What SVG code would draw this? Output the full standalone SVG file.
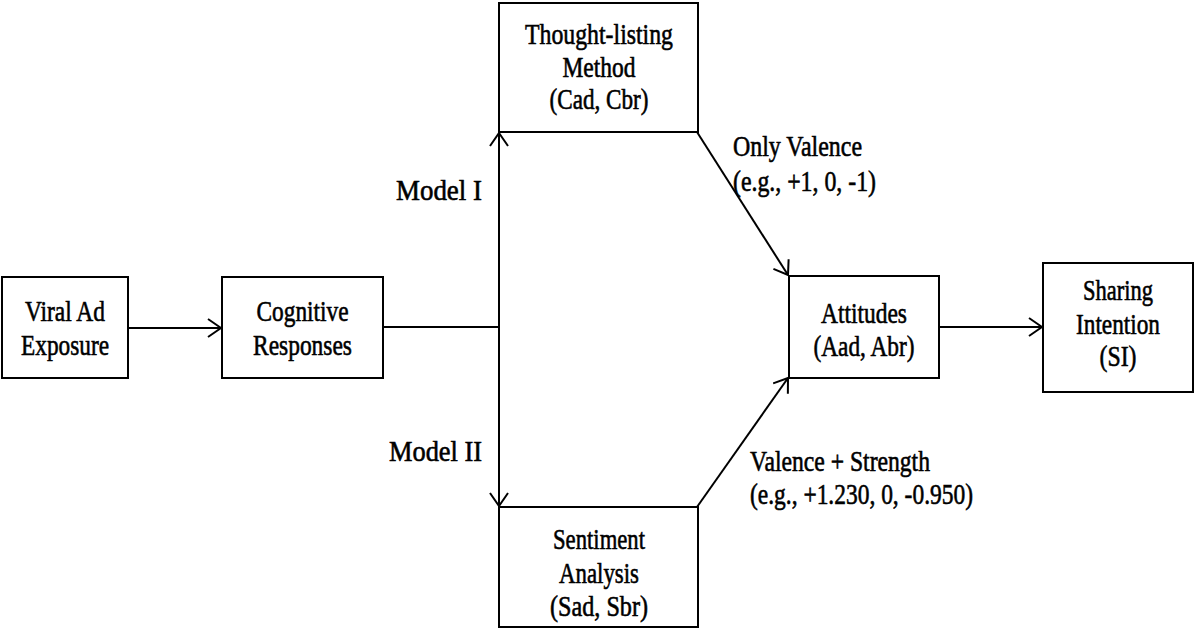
<svg xmlns="http://www.w3.org/2000/svg" width="1195" height="639" viewBox="0 0 1195 639">
<style>
.box{fill:#fff;stroke:#000;stroke-width:2}
.t{font-family:"Liberation Serif","Times New Roman",serif;font-size:30px;fill:#000;stroke:#000;stroke-width:0.6;text-anchor:middle}
.l{font-family:"Liberation Serif","Times New Roman",serif;font-size:30px;fill:#000;stroke:#000;stroke-width:0.6;text-anchor:start}
.c{fill:none;stroke:#000;stroke-width:2}
</style>
<defs>
<marker id="ah" markerUnits="userSpaceOnUse" viewBox="0 0 15 20" refX="14" refY="10" markerWidth="15" markerHeight="20" orient="auto">
<path d="M1,1 L14,10 L1,19" fill="none" stroke="#000" stroke-width="2"/>
</marker>
</defs>
<rect width="1195" height="639" fill="#fff"/>
<g id="connectors">
<path class="c" d="M128,328 H221" marker-end="url(#ah)"/>
<path class="c" d="M383,327 H499"/>
<path class="c" d="M499,327 V133" marker-end="url(#ah)"/>
<path class="c" d="M499,327 V506" marker-end="url(#ah)"/>
<path class="c" d="M697,132 L788,275" marker-end="url(#ah)"/>
<path class="c" d="M697,507 L788,378" marker-end="url(#ah)"/>
<path class="c" d="M939,327 H1042" marker-end="url(#ah)"/>
</g>
<g id="viral">
<rect class="box" x="2" y="277" width="126" height="101"/>
<text class="t" x="65" y="321" textLength="80" lengthAdjust="spacingAndGlyphs">Viral Ad</text>
<text class="t" x="65" y="355" textLength="88" lengthAdjust="spacingAndGlyphs">Exposure</text>
</g>
<g id="cognitive">
<rect class="box" x="222" y="277" width="161" height="101"/>
<text class="t" x="302.5" y="321" textLength="92" lengthAdjust="spacingAndGlyphs">Cognitive</text>
<text class="t" x="302.5" y="355" textLength="99" lengthAdjust="spacingAndGlyphs">Responses</text>
</g>
<g id="thought">
<rect class="box" x="499" y="3" width="199" height="129"/>
<text class="t" x="599" y="44" textLength="148" lengthAdjust="spacingAndGlyphs">Thought-listing</text>
<text class="t" x="599" y="77" textLength="73" lengthAdjust="spacingAndGlyphs">Method</text>
<text class="t" x="599" y="109" textLength="99" lengthAdjust="spacingAndGlyphs">(Cad, Cbr)</text>
</g>
<g id="sentiment">
<rect class="box" x="499" y="507" width="199" height="120"/>
<text class="t" x="599" y="549" textLength="92" lengthAdjust="spacingAndGlyphs">Sentiment</text>
<text class="t" x="599" y="583" textLength="80" lengthAdjust="spacingAndGlyphs">Analysis</text>
<text class="t" x="599" y="616" textLength="98" lengthAdjust="spacingAndGlyphs">(Sad, Sbr)</text>
</g>
<g id="attitudes">
<rect class="box" x="789" y="276" width="150" height="102"/>
<text class="t" x="864" y="323" textLength="86" lengthAdjust="spacingAndGlyphs">Attitudes</text>
<text class="t" x="864" y="356" textLength="101" lengthAdjust="spacingAndGlyphs">(Aad, Abr)</text>
</g>
<g id="sharing">
<rect class="box" x="1043" y="263" width="150" height="129"/>
<text class="t" x="1118" y="300" textLength="70" lengthAdjust="spacingAndGlyphs">Sharing</text>
<text class="t" x="1118" y="334" textLength="84" lengthAdjust="spacingAndGlyphs">Intention</text>
<text class="t" x="1118" y="366" textLength="37" lengthAdjust="spacingAndGlyphs">(SI)</text>
</g>
<g id="labels">
<text class="l" x="396" y="200" textLength="86" lengthAdjust="spacingAndGlyphs">Model I</text>
<text class="l" x="389" y="461" textLength="93" lengthAdjust="spacingAndGlyphs">Model II</text>
<text class="l" x="733" y="156" textLength="129" lengthAdjust="spacingAndGlyphs">Only Valence</text>
<text class="l" x="733" y="191" textLength="143" lengthAdjust="spacingAndGlyphs">(e.g., +1, 0, -1)</text>
<text class="l" x="750" y="471" textLength="180" lengthAdjust="spacingAndGlyphs">Valence + Strength</text>
<text class="l" x="750" y="504" textLength="223" lengthAdjust="spacingAndGlyphs">(e.g., +1.230, 0, -0.950)</text>
</g>
</svg>
